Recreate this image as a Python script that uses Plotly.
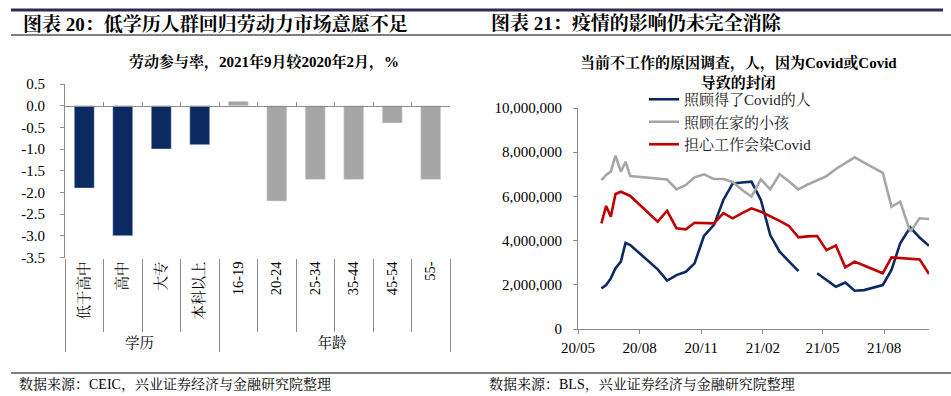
import plotly.graph_objects as go

# ---------------- data: left chart ----------------
categories = ["低于高中", "高中", "大专", "本科以上", "16-19", "20-24", "25-34", "35-44", "45-54", "55-"]
groups = ["学历"] * 4 + ["年龄"] * 6
lfpr_change = [-1.9, -3.0, -1.0, -0.9, 0.1, -2.2, -1.7, -1.7, -0.4, -1.7]
left_tickvals = [0.5, 0.0, -0.5, -1.0, -1.5, -2.0, -2.5, -3.0, -3.5]
left_ticktext = ["0.5", "0.0", "-0.5", "-1.0", "-1.5", "-2.0", "-2.5", "-3.0", "-3.5"]

# ---------------- data: right chart ----------------
dates = ["2020-06-05", "2020-06-12", "2020-06-19", "2020-06-26", "2020-07-04", "2020-07-11", "2020-07-18",
         "2020-08-28", "2020-09-11", "2020-09-25", "2020-10-09", "2020-10-22", "2020-11-05", "2020-11-20",
         "2020-12-04", "2020-12-18", "2021-01-01", "2021-01-15", "2021-01-29", "2021-02-12", "2021-02-26",
         "2021-03-12", "2021-03-26", "2021-04-09", "2021-04-23", "2021-05-07", "2021-05-21", "2021-06-04",
         "2021-06-18", "2021-07-02", "2021-07-16", "2021-07-30", "2021-08-12", "2021-08-25", "2021-09-09",
         "2021-09-23", "2021-10-07"]
care_covid = [1.84, 1.99, 2.29, 2.75, 3.05, 3.90, 3.80, 2.70, 2.19, 2.44, 2.59, 2.97, 4.21, 4.71,
              5.84, 6.59, 6.63, 6.67, 5.84, 4.25, 3.50, 3.05, 2.62, None, 2.52, 2.22, 1.91, 2.10,
              1.73, 1.76, 1.88, 1.99, 2.67, 3.88, 4.60, 4.14, 3.76]
care_kids = [6.74, 6.97, 7.12, 7.84, 7.12, 7.57, 6.92, 6.81, 6.77, 6.32, 6.52, 6.86, 7.00, 6.79,
             6.79, 6.65, 6.29, 5.99, 6.77, 6.32, 7.01, 6.67, 6.32, 6.54, 6.74, 6.92, 7.24, 7.51,
             7.77, 7.53, 7.29, 7.07, 5.53, 5.76, 4.40, 5.01, 4.98]
fear_covid = [4.78, 5.57, 5.08, 6.11, 6.21, 6.11, 6.02, 4.86, 5.35, 4.56, 4.51, 4.81, 4.80, 4.78,
              5.24, 5.01, 5.24, 5.46, 5.31, 5.11, 4.89, 4.66, 4.15, 4.19, 4.21, 3.57, 3.78, 2.79,
              3.05, 2.87, 2.69, 2.52, 3.24, 3.21, 3.20, 3.15, 2.49]
MILLION = 1_000_000
series_names = ["照顾得了Covid的人", "照顾在家的小孩", "担心工作会染Covid"]

# ---------------- styles ----------------
FONT = "Times New Roman, Liberation Serif, Noto Serif CJK SC, Noto Sans CJK SC, serif"
NAVY = "#0c2a62"
GRAY = "#a6a6a6"
RED = "#c00000"
AXIS = "#8c8c8c"
W, H = 951, 396

def px_x(p):
    return p / W

def px_y(p):
    return 1 - p / H

L_DOM_X = [px_x(65), px_x(450)]
L_DOM_Y = [px_y(257.5), px_y(84)]
R_DOM_X = [px_x(578), px_x(929)]
R_DOM_Y = [px_y(329), px_y(108)]
yr = [-3.5, 0.5]
zero_pos = L_DOM_Y[0] + (0 - yr[0]) / (yr[1] - yr[0]) * (L_DOM_Y[1] - L_DOM_Y[0])

bar_colors = [NAVY if g == "学历" else GRAY for g in groups]

fig = go.Figure()
fig.add_trace(go.Bar(x=[groups, categories], y=lfpr_change, marker_color=bar_colors,
                     width=0.52, showlegend=False, xaxis="x", yaxis="y"))
fig.add_trace(go.Scatter(x=[], y=[], xaxis="x2", yaxis="y", showlegend=False))

line_colors = [NAVY, GRAY, RED]
for name, vals, col in zip(series_names, [care_covid, care_kids, fear_covid], line_colors):
    fig.add_trace(go.Scatter(x=dates, y=[None if v is None else v * MILLION for v in vals],
                             mode="lines", name=name, line=dict(color=col, width=2.6),
                             connectgaps=False, xaxis="x3", yaxis="y3"))

tickfont = dict(family=FONT, size=15, color="#000")
fig.update_layout(
    width=W, height=H, margin=dict(l=0, r=0, t=0, b=0, autoexpand=False),
    paper_bgcolor="white", plot_bgcolor="white",
    font=dict(family=FONT, size=15, color="#000"),
    xaxis=dict(domain=L_DOM_X, anchor="y", type="multicategory", showline=False,
               ticks="outside", ticklen=73, tickcolor=AXIS, tickangle=-90,
               tickfont=dict(family=FONT, size=14.5, color="#000"),
               dividercolor=AXIS, dividerwidth=1, showgrid=False, zeroline=False,
               automargin=False),
    xaxis2=dict(overlaying="x", anchor="free", position=zero_pos, type="linear",
                range=[-0.5, len(categories) - 0.5],
                tickvals=[i + 0.5 for i in range(len(categories))],
                ticks="inside", ticklen=4, tickcolor=AXIS, showline=True, linecolor=AXIS,
                showticklabels=False, showgrid=False, zeroline=False, automargin=False),
    yaxis=dict(domain=L_DOM_Y, anchor="x", range=yr, tickvals=left_tickvals, ticktext=left_ticktext,
               ticks="outside", ticklen=4, tickcolor=AXIS, showline=True, linecolor=AXIS,
               showgrid=False, zeroline=False, tickfont=tickfont, ticklabelstandoff=12,
               automargin=False),
    xaxis3=dict(domain=R_DOM_X, anchor="y3", type="date", range=["2020-05-01", "2021-10-07"],
                tick0="2020-05-01", dtick="M3", tickformat="%y/%m",
                ticks="outside", ticklen=4, tickcolor=AXIS, showline=True, linecolor=AXIS,
                showgrid=False, zeroline=False, tickfont=tickfont, ticklabelstandoff=1,
                automargin=False),
    yaxis3=dict(domain=R_DOM_Y, anchor="x3", range=[0, 10 * MILLION], dtick=2 * MILLION,
                tickformat=",.0f", ticks="outside", ticklen=4, tickcolor=AXIS, showline=True,
                linecolor=AXIS, showgrid=False, zeroline=False, tickfont=tickfont, ticklabelstandoff=8,
                automargin=False),
    legend=dict(x=px_x(644), y=px_y(83), xanchor="left", yanchor="top",
                font=dict(family=FONT, size=15, color="#222"), bgcolor="rgba(0,0,0,0)",
                tracegroupgap=0, itemwidth=30),
)

shapes = [
    dict(type="line", xref="paper", yref="paper", x0=px_x(11), x1=px_x(943), y0=px_y(10), y1=px_y(10),
         line=dict(color="#2f2b55", width=3)),
    dict(type="line", xref="paper", yref="paper", x0=px_x(11), x1=1, y0=px_y(35), y1=px_y(35),
         line=dict(color="#000", width=1)),
    dict(type="line", xref="paper", yref="paper", x0=px_x(11), x1=1, y0=px_y(373), y1=px_y(373),
         line=dict(color="#000", width=1)),
]
fig.update_layout(shapes=shapes)

ann = [
    dict(text="<b>图表 20：低学历人群回归劳动力市场意愿不足</b>", x=px_x(21), y=px_y(24), size=19, anchor="left"),
    dict(text="<b>图表 21：疫情的影响仍未完全消除</b>", x=px_x(489), y=px_y(24), size=19, anchor="left"),
    dict(text="<b>劳动参与率，2021年9月较2020年2月，%</b>", x=px_x(264), y=px_y(62), size=15, anchor="center"),
    dict(text="<b>当前不工作的原因调查，人，因为Covid或Covid<br>导致的封闭</b>", x=px_x(738), y=px_y(72), size=15, anchor="center"),
    dict(text="数据来源：CEIC，兴业证券经济与金融研究院整理", x=px_x(17), y=px_y(384), size=14, anchor="left"),
    dict(text="数据来源：BLS，兴业证券经济与金融研究院整理", x=px_x(487), y=px_y(384), size=14, anchor="left"),
]
for a in ann:
    fig.add_annotation(text=a["text"], x=a["x"], y=a["y"], xref="paper", yref="paper",
                       xanchor=a["anchor"], yanchor="middle", showarrow=False,
                       font=dict(family=FONT, size=a["size"], color="#000"))

fig.write_html("out.html", config={"displayModeBar": False},
               post_script="document.body.style.margin='0';")
